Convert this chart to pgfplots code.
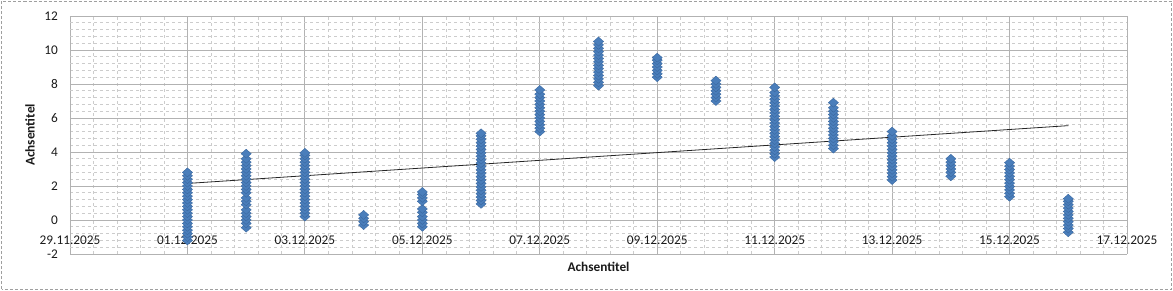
\documentclass[border=0pt]{standalone}
\usepackage{fontspec}
\setmainfont{Carlito}
\usepackage{pgfplots}
\pgfplotsset{compat=1.18}
\definecolor{mblue}{HTML}{4A7EBB}
\definecolor{mblueedge}{HTML}{3A68A0}
\definecolor{txt}{HTML}{1A1A1A}
\begin{document}
\begin{tikzpicture}[x=1pt,y=1pt]
\path[use as bounding box] (0,0) rectangle (1173,291);
\draw[gray!75, densely dashed, line width=0.8pt] (1.5,1.5) rectangle (1171.5,289.5);
\begin{axis}[
  at={(70pt,37pt)}, anchor=south west,
  scale only axis, width=1057pt, height=238pt,
  xmin=0, xmax=18, ymin=-2, ymax=12,
  xtick={0,2,...,18},
  xticklabels={29.11.2025,01.12.2025,03.12.2025,05.12.2025,07.12.2025,09.12.2025,11.12.2025,13.12.2025,15.12.2025,17.12.2025},
  ytick={-2,0,...,12},
  yticklabels={-2,0,2,4,6,8,10,12},
  minor x tick num=4, minor y tick num=4,
  tick style={draw=none},
  grid=both,
  major grid style={gray!60, line width=0.8pt},
  minor grid style={gray!40, dashed, line width=0.6pt},
  axis line style={gray!60, densely dotted, line width=0.8pt},
  font=\fontsize{13.3}{16}\selectfont,
  tick label style={text=txt},
  /pgf/number format/assume math mode=true,
  xticklabel style={anchor=center, yshift=14pt},
  yticklabel style={xshift=-8.5pt},
  xlabel={\bfseries Achsentitel},
  ylabel={\bfseries Achsentitel},
  label style={text=txt},
  xlabel style={at={(axis description cs:0.5,0)}, anchor=center, yshift=-13pt},
  ylabel style={at={(axis description cs:-0.0378,0.5)}, anchor=center, rotate=0},
]
\addplot[only marks, mark=diamond*, mark size=4.5pt,
  mark options={xscale=1.5, fill=mblue, draw=mblueedge, line width=0.4pt}]
coordinates {
(2,-1.2)(2,-1.0)(2,-0.8)(2,-0.6)(2,-0.4)(2,-0.2)(2,0)(2,0.2)(2,0.4)(2,0.6)(2,0.8)(2,1.0)(2,1.2)(2,1.4)(2,1.6)(2,1.8)(2,2.0)(2,2.2)(2,2.4)(2,2.6)(2,2.8)
(3,-0.45)(3,-0.2)(3,0)(3,0.2)(3,0.4)(3,0.6)(3,0.9)(3,1.1)(3,1.3)(3,1.6)(3,1.8)(3,2.0)(3,2.2)(3,2.4)(3,2.6)(3,2.8)(3,3.0)(3,3.2)(3,3.4)(3,3.6)(3,3.9)
(4,0.2)(4,0.4)(4,0.6)(4,0.8)(4,1.0)(4,1.2)(4,1.4)(4,1.6)(4,1.8)(4,2.0)(4,2.2)(4,2.4)(4,2.6)(4,2.8)(4,3.0)(4,3.2)(4,3.4)(4,3.6)(4,3.8)(4,3.95)
(5,-0.3)(5,-0.1)(5,0.1)(5,0.3)
(6,-0.4)(6,-0.2)(6,0)(6,0.2)(6,0.45)(6,0.65)(6,1.1)(6,1.3)(6,1.5)(6,1.65)
(7,0.95)(7,1.15)(7,1.35)(7,1.55)(7,1.75)(7,1.95)(7,2.15)(7,2.35)(7,2.55)(7,2.75)(7,2.95)(7,3.15)(7,3.35)(7,3.55)(7,3.75)(7,3.95)(7,4.15)(7,4.35)(7,4.55)(7,4.75)(7,4.95)(7,5.1)
(8,5.2)(8,5.4)(8,5.6)(8,5.8)(8,6.0)(8,6.2)(8,6.4)(8,6.6)(8,6.8)(8,7.0)(8,7.2)(8,7.4)(8,7.65)
(9,7.9)(9,8.1)(9,8.3)(9,8.5)(9,8.7)(9,8.9)(9,9.1)(9,9.3)(9,9.5)(9,9.7)(9,9.9)(9,10.1)(9,10.3)(9,10.5)
(10,8.4)(10,8.6)(10,8.8)(10,9.0)(10,9.2)(10,9.4)(10,9.55)
(11,7.0)(11,7.2)(11,7.4)(11,7.6)(11,7.8)(11,8.0)(11,8.2)
(12,3.7)(12,3.9)(12,4.1)(12,4.3)(12,4.5)(12,4.7)(12,4.9)(12,5.1)(12,5.3)(12,5.5)(12,5.7)(12,5.9)(12,6.1)(12,6.3)(12,6.5)(12,6.7)(12,6.9)(12,7.1)(12,7.3)(12,7.5)(12,7.8)
(13,4.2)(13,4.4)(13,4.6)(13,4.8)(13,5.0)(13,5.2)(13,5.4)(13,5.6)(13,5.8)(13,6.0)(13,6.2)(13,6.4)(13,6.6)(13,6.9)
(14,2.35)(14,2.55)(14,2.75)(14,2.95)(14,3.15)(14,3.35)(14,3.55)(14,3.75)(14,3.95)(14,4.15)(14,4.35)(14,4.55)(14,4.75)(14,4.95)(14,5.2)
(15,2.57)(15,2.8)(15,3.0)(15,3.2)(15,3.4)(15,3.6)
(16,1.37)(16,1.57)(16,1.77)(16,1.97)(16,2.17)(16,2.37)(16,2.57)(16,2.77)(16,2.97)(16,3.17)(16,3.37)
(17,-0.72)(17,-0.5)(17,-0.3)(17,-0.1)(17,0.1)(17,0.3)(17,0.5)(17,0.7)(17,0.9)(17,1.1)(17,1.25)
};
\addplot[no marks, black!85, line width=0.8pt] coordinates {(2,2.15)(17,5.55)};
\end{axis}
\end{tikzpicture}
\end{document}
